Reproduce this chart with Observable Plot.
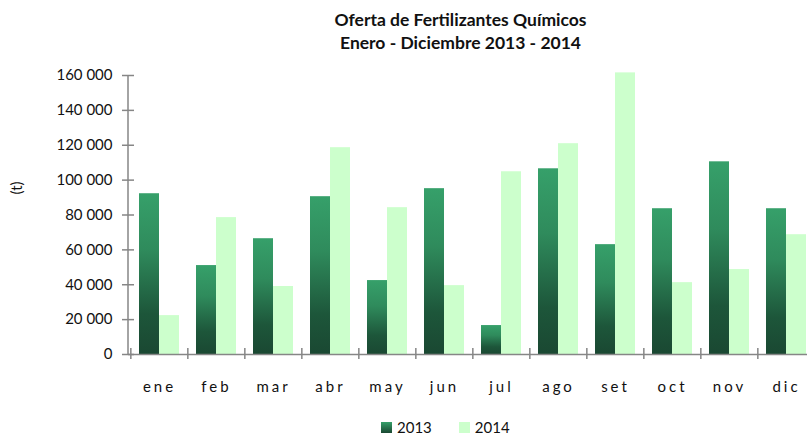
<!DOCTYPE html>
<html>
<head>
<meta charset="utf-8">
<script src="https://cdn.jsdelivr.net/npm/d3@7"></script>
<script src="https://cdn.jsdelivr.net/npm/@observablehq/plot@0.6"></script>
<style>
  html, body { margin: 0; padding: 0; background: #fff; overflow: hidden; width: 807px; height: 439px; }
  body { font-family: Lato, "Open Sans", sans-serif; color: #111; position: relative; }
  #title { position: absolute; left: 114px; width: 693px; top: 8px; text-align: center; font-weight: bold; font-size: 17.5px; line-height: 23px; }
  #chart { position: absolute; left: 0; top: 60px; }
  #legend { position: absolute; top: 418px; left: 381px; font-size: 15px; display: flex; align-items: center; }
  .sw { display: inline-block; width: 11px; height: 11px; margin-right: 5px; }
  .item { display: flex; align-items: center; margin-right: 27px; }
</style>
</head>
<body>
<div id="title">Oferta de Fertilizantes Químicos<br>Enero - Diciembre 2013 - 2014</div>
<div id="chart"></div>
<div id="legend"></div>
<script>
const months = ["ene","feb","mar","abr","may","jun","jul","ago","set","oct","nov","dic"];
const years = ["2013","2014"];
const v2013 = [92200, 51000, 66400, 90500, 42400, 95100, 16600, 106500, 63000, 83600, 110500, 83600];
const v2014 = [22300, 78500, 39000, 118600, 84200, 39500, 104800, 120900, 161500, 41200, 48700, 68700];
const yTicks = [0, 20000, 40000, 60000, 80000, 100000, 120000, 140000, 160000];

const data = [];
months.forEach((m, i) => {
  data.push({month: m, year: "2013", value: v2013[i]});
  data.push({month: m, year: "2014", value: v2014[i]});
});

const W = 807, H = 345;
const mL = 128, mR = -9;
const step = (W - mL - mR) / months.length;
const barW = 20;
const pad = 1 - barW / step;

const fmt = d => d3.format(",")(d).replace(/,/g, " ");
const axisColor = "#868686";

const defs = () => {
  const d = d3.create("svg:defs");
  const g = d.append("linearGradient").attr("id", "g2013").attr("x1", 0).attr("y1", 0).attr("x2", 0).attr("y2", 1);
  g.append("stop").attr("offset", "0").attr("stop-color", "#36a06a");
  g.append("stop").attr("offset", "0.35").attr("stop-color", "#2f8b5c");
  g.append("stop").attr("offset", "0.75").attr("stop-color", "#1d563a");
  g.append("stop").attr("offset", "1").attr("stop-color", "#1a4832");
  return d.node();
};

const chart = Plot.plot({
  width: W,
  height: H,
  marginLeft: mL,
  marginRight: mR,
  marginTop: 15,
  marginBottom: 51,
  style: {fontFamily: "Lato, 'Open Sans', sans-serif", fontSize: "15px", color: "#111", background: "transparent", overflow: "hidden"},
  x: {domain: months, paddingInner: pad, paddingOuter: pad / 2, label: null},
  y: {domain: [0, 160000], label: null},
  marks: [
    defs,
    Plot.barY(data.filter(d => d.year === "2013"), {x: "month", y: "value", fill: "url(#g2013)", dx: -barW / 2}),
    Plot.barY(data.filter(d => d.year === "2014"), {x: "month", y: "value", fill: "#ccffcc", dx: barW / 2}),
    Plot.ruleY([0], {stroke: axisColor, strokeWidth: 1.5}),
    Plot.axisY({ticks: yTicks, tickSize: 6, tickPadding: 10, tickFormat: fmt, stroke: axisColor, strokeWidth: 1.5, fill: "#111", fontSize: 15}),
    Plot.axisY({ticks: yTicks, tickSize: -6, tickFormat: () => "", stroke: axisColor, strokeWidth: 1.5}),
    Plot.axisX({tickSize: 11, tickFormat: () => "", dx: -step / 2, dy: -6, stroke: axisColor, strokeWidth: 1.5}),
    Plot.axisX({tickSize: 0, tickPadding: 27, tickFormat: d => d, fill: "#111", fontSize: 15})
  ]
});
document.getElementById("chart").appendChild(chart);

// letter spacing on month labels
chart.querySelectorAll("g[aria-label='x-axis tick label'] text").forEach(t => t.setAttribute("letter-spacing", "3"));

const svg = d3.select(chart);
// y axis line along the left edge of the x range
const xs = chart.scale("x");
const ys = chart.scale("y");
svg.append("line")
  .attr("x1", xs.range[0]).attr("x2", xs.range[0])
  .attr("y1", ys.apply(0)).attr("y2", ys.apply(160000))
  .attr("stroke", axisColor).attr("stroke-width", 1.5);

// y axis title
svg.append("text")
  .attr("transform", `translate(22, ${128}) rotate(-90)`)
  .attr("text-anchor", "middle")
  .attr("fill", "#111")
  .style("font-size", "15px")
  .text("(t)");

const legend = d3.select("#legend");
years.forEach(y => {
  const it = legend.append("div").attr("class", "item");
  it.append("span").attr("class", "sw").style("background", y === "2013" ? "linear-gradient(#36a06a, #1a4832)" : "#ccffcc");
  it.append("span").text(y);
});
</script>
</body>
</html>
